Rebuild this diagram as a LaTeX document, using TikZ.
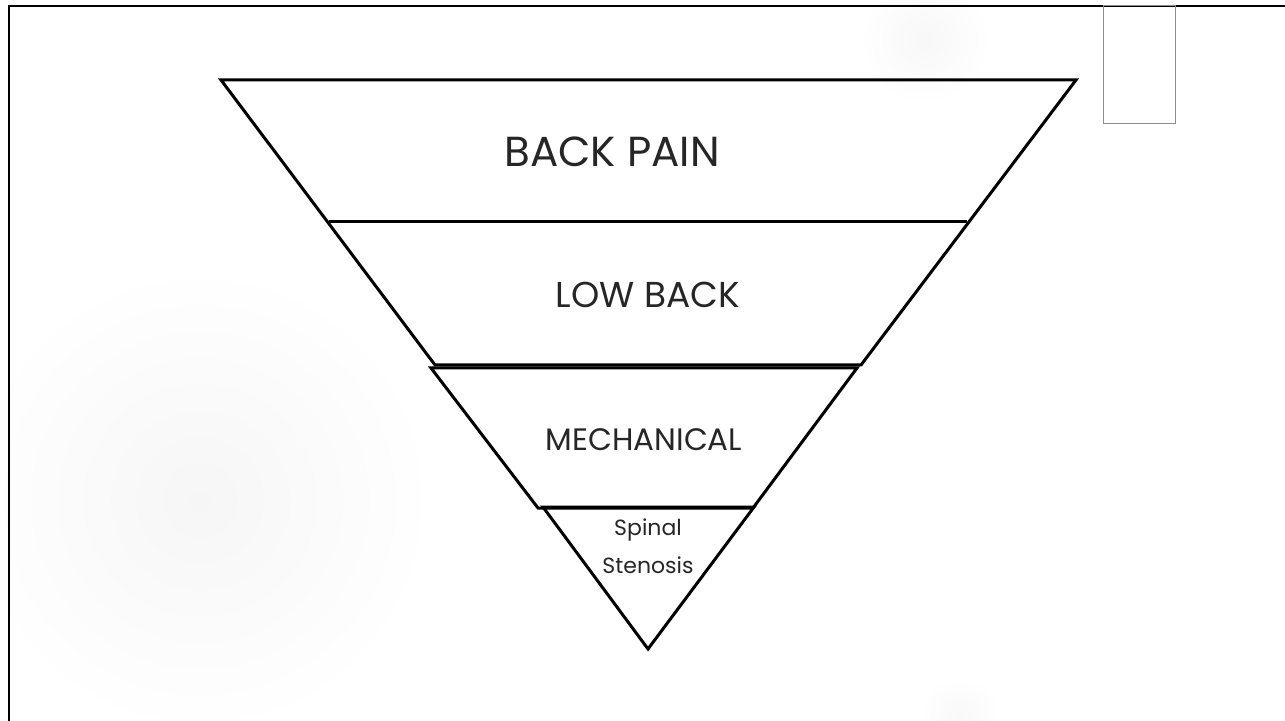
\documentclass[tikz,border=0pt]{standalone}
\usepackage{fontspec}
\setmainfont{Poppins}
\usetikzlibrary{calc,shadings}

\begin{document}
\begin{tikzpicture}[x=0.5pt,y=-0.5pt,
    band/.style={line width=1.5pt,line join=miter},
    lbl/.style={font=\fontsize{#1}{1.75\dimexpr#1\relax}\selectfont,align=center,text=black!85}]
        \useasboundingbox (0,0) rectangle (1285,721);

        % faint blobs in the background
        \shade[inner color=black!3.5,outer color=white] (200,500) circle (235);
        \shade[inner color=black!3,outer color=white] (925,40) circle (65);
        \shade[inner color=black!2.5,outer color=white] (960,715) circle (40);

        % frame on left and top, small box at the top right
        \draw[line width=1.3pt] (9,721) -- (9,6) -- (1285,6);
        \draw[black!45,line width=0.5pt] (1103,6) rectangle (1175,124);

        % top two bands share their slanted sides
        \coordinate (TL) at (221,80);
        \coordinate (TR) at (1076,80);
        \coordinate (ML) at (329,222);
        \coordinate (MR) at (967,222);
        \coordinate (BL) at (435,365);
        \coordinate (BR) at (861,365);

        % mechanical band, set just below
        \coordinate (A) at (431,368);
        \coordinate (B) at (857,368);
        \coordinate (C) at (753,508);
        \coordinate (D) at (538,508);

        % tip of the funnel
        \coordinate (E) at (543,507);
        \coordinate (F) at (754,507);
        \coordinate (G) at (648,649);

        \draw[band] (TL) -- (TR) -- (BR) -- (BL) -- cycle;
        \draw[band] (ML) -- (MR);
        \draw[band] (A) -- (B) -- (C) -- (D) -- cycle;
        \draw[band] (E) -- (F) -- (G) -- cycle;

        \node[lbl=21pt] (pain) at (612,152) {BACK PAIN};
        \node[lbl=18pt] (low) at (648,295) {LOW BACK};
        \node[lbl=15.5pt] (mech) at (644,440) {MECHANICAL};
        \node[lbl=11pt] (spin) at (648,546) {Spinal\\Stenosis};
    \end{tikzpicture}
\end{document}
